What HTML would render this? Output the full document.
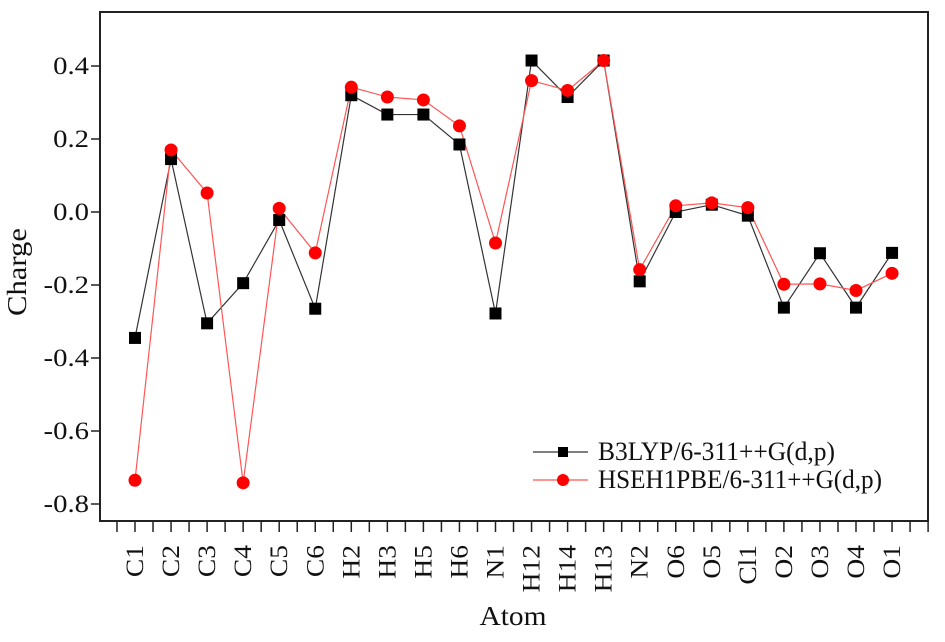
<!DOCTYPE html>
<html><head><meta charset="utf-8"><style>
html,body{margin:0;padding:0;background:#fff}
svg text{font-family:"Liberation Serif",serif;fill:#111}
</style></head><body>
<svg id="chart" width="945" height="637" xmlns="http://www.w3.org/2000/svg" font-family="Liberation Serif, serif">
<rect x="100" y="12" width="828" height="509" fill="none" stroke="#222" stroke-width="2"/>
<g id="axes"></g><g id="series"></g>
<text transform="translate(26,272) rotate(-90)" text-anchor="middle" font-size="27" textLength="88" lengthAdjust="spacingAndGlyphs">Charge</text>
<text x="513" y="625" text-anchor="middle" font-size="27" textLength="67" lengthAdjust="spacingAndGlyphs">Atom</text>
<g>
<g>
<line x1="533" y1="452" x2="588" y2="452" stroke="#333" stroke-width="1.2"/><rect x="558" y="447" width="10" height="10" fill="#000"/>
<text x="598" y="460" font-size="26" textLength="237" lengthAdjust="spacingAndGlyphs">B3LYP/6-311++G(d,p)</text></g>
<g>
<line x1="533" y1="480" x2="588" y2="480" stroke="#f55" stroke-width="1.2"/><circle cx="563" cy="480" r="6" fill="#f00"/>
<text x="598" y="488" font-size="26" textLength="284" lengthAdjust="spacingAndGlyphs">HSEH1PBE/6-311++G(d,p)</text></g>
</g>
</svg>
<script>
const categories=["C1","C2","C3","C4","C5","C6","H2","H3","H5","H6","N1","H12","H14","H13","N2","O6","O5","Cl1","O2","O3","O4","O1"];
const b3lyp=[-0.345,0.145,-0.305,-0.195,-0.022,-0.265,0.32,0.267,0.267,0.185,-0.278,0.415,0.315,0.415,-0.19,0.0,0.02,-0.01,-0.262,-0.113,-0.262,-0.112];
const hseh=[-0.735,0.17,0.052,-0.742,0.01,-0.112,0.342,0.315,0.307,0.236,-0.085,0.36,0.333,0.415,-0.158,0.017,0.025,0.012,-0.198,-0.197,-0.215,-0.168];
const yTicks=[0.4,0.2,0.0,-0.2,-0.4,-0.6,-0.8];
const yTickLabels=["0.4","0.2","0.0","-0.2","-0.4","-0.6","-0.8"];
const NS="http://www.w3.org/2000/svg";
function X(i){return 135+i*36.05;}
function Y(v){return 212-v*365;}
const axes=document.getElementById('axes'),ser=document.getElementById('series');
function mk(tag,attrs,parent){const e=document.createElementNS(NS,tag);for(const k in attrs)e.setAttribute(k,attrs[k]);parent.appendChild(e);return e;}
function stretch(el,f){const w=el.getComputedTextLength();el.setAttribute('textLength',(w*f).toFixed(1));el.setAttribute('lengthAdjust','spacingAndGlyphs');}
yTicks.forEach((v,i)=>{
 const t=mk('line',{x1:91,x2:100,y1:Y(v),y2:Y(v),stroke:'#222','stroke-width':1.5},axes);
 
 
 const l=mk('text',{x:89,y:Y(v)+8,'text-anchor':'end','font-size':25,'font-family':'Liberation Serif, serif'},axes);
 l.textContent=yTickLabels[i];
 
 
 stretch(l,1.15);
});
for(let k=-1;k<=2*categories.length;k++){
 const x=X(k/2);if(x<100||x>929)continue;
 const t=mk('line',{x1:x,x2:x,y1:521,y2:532,stroke:'#222','stroke-width':1.5},axes);
 
 
}
categories.forEach((c,i)=>{
 const l=mk('text',{transform:`translate(${X(i)+8},545) rotate(-90)`,'text-anchor':'end','font-size':25,'font-family':'Liberation Serif, serif'},axes);
 l.textContent=c;
 
 
 stretch(l,1.1);
});
function line(vals,color,name){
 const p=mk('polyline',{points:vals.map((v,i)=>X(i)+','+Y(v)).join(' '),fill:'none',stroke:color,'stroke-width':1.2},ser);
 
 
}
line(b3lyp,'#333','b3lyp-line');
line(hseh,'#f55','hseh1pbe-line');
b3lyp.forEach((v,i)=>{
 const r=mk('rect',{x:X(i)-6,y:Y(v)-6,width:12,height:12,fill:'#000'},ser);
 
 
});
hseh.forEach((v,i)=>{
 const c=mk('circle',{cx:X(i),cy:Y(v),r:6.5,fill:'#f00'},ser);
 
 
});
</script>
</body></html>
